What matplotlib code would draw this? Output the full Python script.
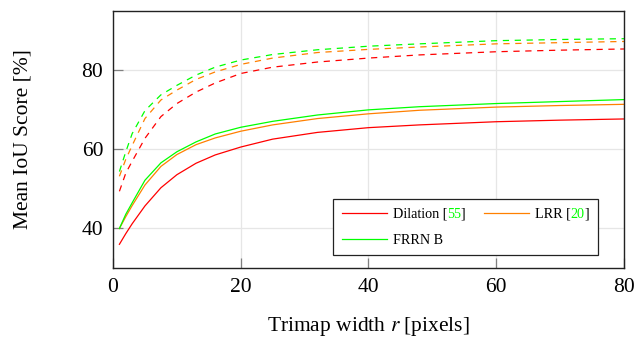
import numpy as np
import matplotlib
matplotlib.use("Agg")
import matplotlib.pyplot as plt
from matplotlib.offsetbox import TextArea, HPacker

plt.rcParams['font.family'] = ['Liberation Serif', 'DejaVu Serif']
plt.rcParams['mathtext.fontset'] = 'stix'

# trimap width r [pixels]
r = [1, 2, 3, 5, 7.5, 10, 13, 16, 20, 25, 32, 40, 48, 60, 70, 80]

# solid lines
dilation = [36.0, 38.7, 41.2, 45.7, 50.3, 53.6, 56.5, 58.6, 60.6, 62.6, 64.3, 65.5, 66.2, 67.0, 67.4, 67.7]
lrr = [40.0, 43.0, 45.8, 51.0, 55.7, 58.7, 61.2, 62.9, 64.6, 66.2, 67.8, 69.0, 69.9, 70.7, 71.1, 71.4]
frrn = [40.0, 43.6, 46.5, 52.2, 56.6, 59.4, 61.9, 63.9, 65.6, 67.1, 68.7, 70.0, 70.8, 71.6, 72.1, 72.6]

# dashed lines
dilation_d = [49.4, 54.0, 57.0, 62.8, 68.3, 71.6, 74.5, 76.8, 79.2, 80.8, 82.1, 83.1, 83.9, 84.7, 85.1, 85.4]
lrr_d = [53.2, 57.5, 61.0, 67.8, 72.5, 75.0, 77.7, 79.6, 81.5, 83.1, 84.5, 85.3, 85.9, 86.7, 87.0, 87.3]
frrn_d = [54.4, 59.4, 64.0, 69.8, 73.8, 76.2, 78.8, 80.8, 82.6, 84.0, 85.2, 86.1, 86.7, 87.5, 87.8, 88.0]

red, orange, green = '#ff0000', '#ff8000', '#00ff00'

fig = plt.figure(figsize=(6.36, 3.37), dpi=100)
ax = fig.add_axes([0.1777, 0.2047, 0.8034, 0.7626])

lw = 0.9
l1, = ax.plot(r, dilation, color=red, lw=lw, label='Dilation [55]')
l2, = ax.plot(r, lrr, color=orange, lw=lw, label='LRR [20]')
l3, = ax.plot(r, frrn, color=green, lw=lw, label='FRRN B')
ax.plot(r, dilation_d, color=red, lw=lw, dashes=(5, 4.5))
ax.plot(r, lrr_d, color=orange, lw=lw, dashes=(5, 4.5))
ax.plot(r, frrn_d, color=green, lw=lw, dashes=(5, 4.5))

ax.set_xlim(0, 80)
ax.set_ylim(30, 95)
ax.set_xticks([0, 20, 40, 60, 80])
ax.set_yticks([40, 60, 80])
ax.grid(True, color='#e6e6e6', lw=0.9)
ax.set_axisbelow(True)
ax.tick_params(direction='in', length=7, width=0.9, color='#808080', labelsize=15.5, pad=7)
for s in ax.spines.values():
    s.set_linewidth(1.0)
    s.set_color('#222222')

ax.set_xlabel('Trimap width $r$ [pixels]', fontsize=15.5, labelpad=13)
ax.set_ylabel('Mean IoU Score [%]', fontsize=15.5, labelpad=35)

fs = 10.2
leg = ax.legend(handles=[l1, l3, l2], ncol=2, loc='lower right',
                bbox_to_anchor=(0.949, 0.05), borderaxespad=0, fontsize=fs,
                fancybox=False, edgecolor='#222222', framealpha=1,
                handlelength=3.2, handletextpad=0.4, columnspacing=1.3,
                labelspacing=0.9, borderpad=0.6)
leg.get_frame().set_linewidth(0.9)

# citation numbers in green: split the label into three packed pieces
for col in leg._legend_handle_box.get_children():
    for item in col.get_children():
        kids = item.get_children()
        s = kids[1].get_text()
        if '[' not in s:
            continue
        pre, rest = s.split('[')
        num = rest.rstrip(']')
        props = dict(fontproperties=leg.prop, verticalalignment='baseline',
                     horizontalalignment='left')
        parts = [TextArea(pre + '[', textprops=dict(props, color='black')),
                 TextArea(num, textprops=dict(props, color=green)),
                 TextArea(']', textprops=dict(props, color='black'))]
        box = HPacker(children=parts, align='baseline', pad=0, sep=0)
        box.set_figure(fig)
        kids[1] = box

fig.savefig('out.png', dpi=100)
